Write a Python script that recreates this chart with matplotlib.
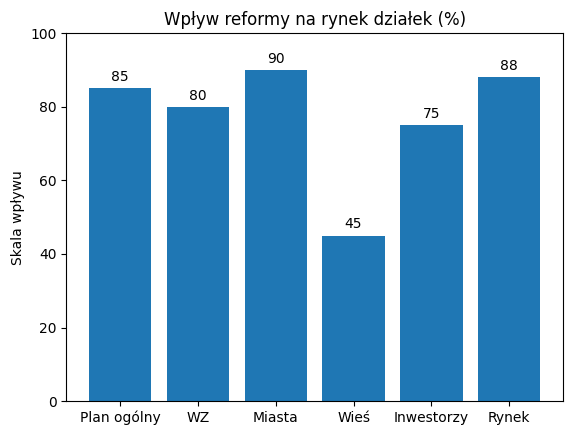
import matplotlib.pyplot as plt

categories = ["Plan ogólny", "WZ", "Miasta", "Wieś", "Inwestorzy", "Rynek"]
values = [85, 80, 90, 45, 75, 88]

fig, ax = plt.subplots(figsize=(5.71, 4.36), dpi=100)
fig.subplots_adjust(left=0.116, right=0.986, top=0.924, bottom=0.080)
bars = ax.bar(categories, values, color="#1f77b4")
ax.bar_label(bars, padding=3)
ax.set_ylim(0, 100)
ax.set_ylabel("Skala wpływu")
ax.set_title("Wpływ reformy na rynek działek (%)")
fig.savefig("out.png", dpi=100)
